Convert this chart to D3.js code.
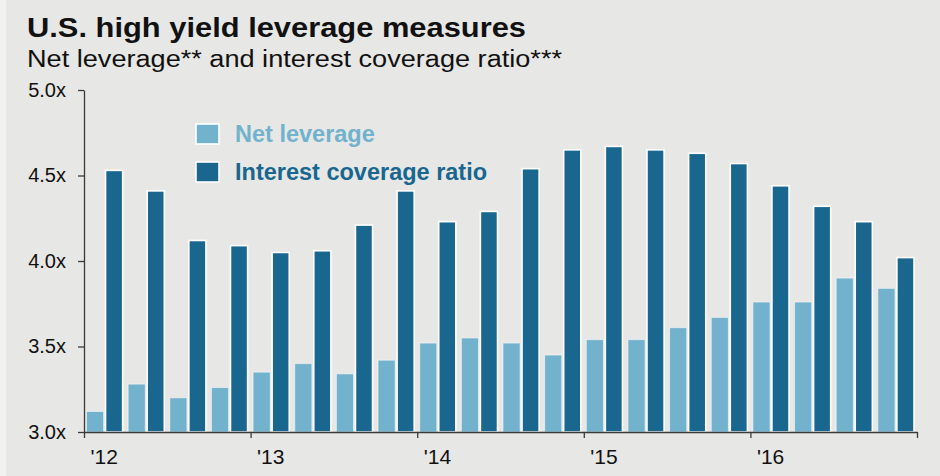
<!DOCTYPE html>
<html>
<head>
<meta charset="utf-8">
<script src="https://cdn.jsdelivr.net/npm/d3@7"></script>
<style>
    body { margin: 0; background: #f2f2f0; }
    svg { display: block; font-family: "Liberation Sans", Arial, sans-serif; }
    .axis path, .axis line { stroke: #3a3a3a; stroke-width: 1.3; }
    .axis text { fill: #111; font-family: "Liberation Sans", Arial, sans-serif; }
</style>
</head>
<body>
<svg class="chart-leverage"></svg>
<script>

var quarters = ["1Q12", "2Q12", "3Q12", "4Q12", "1Q13", "2Q13", "3Q13", "4Q13", "1Q14", "2Q14",
                "3Q14", "4Q14", "1Q15", "2Q15", "3Q15", "4Q15", "1Q16", "2Q16", "3Q16", "4Q16"];
var netLeverage = [3.12, 3.28, 3.20, 3.26, 3.35, 3.40, 3.34, 3.42, 3.52, 3.55,
                   3.52, 3.45, 3.54, 3.54, 3.61, 3.67, 3.76, 3.76, 3.90, 3.84];
var interestCoverage = [4.53, 4.41, 4.12, 4.09, 4.05, 4.06, 4.21, 4.41, 4.23, 4.29,
                        4.54, 4.65, 4.67, 4.65, 4.63, 4.57, 4.44, 4.32, 4.23, 4.02];
var yearLabels = ["'12", "'13", "'14", "'15", "'16"];
var yTicks = [3.0, 3.5, 4.0, 4.5, 5.0];
var seriesNames = ["Net leverage", "Interest coverage ratio"];

var width = 940;
var height = 476;
var plotLeft = 84;
var plotRight = 917;
var plotTop = 90;
var plotBottom = 432;
var lightColor = "#72b2cc";
var darkColor = "#19668e";
var colors = [lightColor, darkColor];

var svg = d3.select(".chart-leverage").attr("width", width).attr("height", height);

svg.append("rect").attr("x", 6).attr("y", 0).attr("width", width - 6).attr("height", height).attr("fill", "#e7e7e5");

// title
svg.append("text").attr("x", 27).attr("y", 37).attr("font-size", 28.5).attr("font-weight", "bold")
    .attr("textLength", 499).attr("lengthAdjust", "spacingAndGlyphs").attr("fill", "#111")
    .text("U.S. high yield leverage measures");

svg.append("text").attr("x", 27).attr("y", 67).attr("font-size", 23.5)
    .attr("textLength", 535).attr("lengthAdjust", "spacingAndGlyphs").attr("fill", "#111")
    .text("Net leverage** and interest coverage ratio***");

var y = d3.scaleLinear().domain([3, 5]).range([plotBottom, plotTop]);
var x0 = d3.scaleBand().domain(quarters).range([plotLeft, plotRight]).padding(0);
var x1 = d3.scaleBand().domain([0, 1]).range([2.5, x0.bandwidth() - 3]).paddingInner(0.1);
var xYear = d3.scaleLinear().domain([0, yearLabels.length]).range([plotLeft, plotRight]);

var rows = quarters.map(function(q, i) {

    return {quarter: q, values: [netLeverage[i], interestCoverage[i]]};

});

var group = svg.selectAll(".quarter").data(rows).enter().append("g").attr("class", "quarter").attr("transform", function(d) {

    return "translate(" + x0(d.quarter) + ",0)";

});

group.selectAll("rect").data(function(d) {

    return d.values.map(function(v, k) { return {k: k, v: v}; });

}).enter().append("rect").attr("x", function(d) {

    return x1(d.k);

}).attr("y", function(d) {

    return y(d.v);

}).attr("width", x1.bandwidth()).attr("height", function(d) {

    return y(3) - y(d.v);

}).attr("fill", function(d) {

    return colors[d.k];

}).attr("stroke", function(d) {

    return d.k == 0 ? "rgba(255,255,255,0.55)" : "#fff";

}).attr("stroke-width", function(d) {

    return d.k == 0 ? 1 : 1.6;

});

// y axis
var yAxis = svg.append("g").attr("class", "axis").attr("transform", "translate(" + plotLeft + ",0)")
    .call(d3.axisLeft(y).tickValues(yTicks).tickSize(6).tickPadding(12).tickSizeOuter(0).tickFormat(function(d) {

        return d3.format(".1f")(d) + "x";

    }));
yAxis.selectAll("text").attr("font-size", 20);

// x axis
var xAxis = svg.append("g").attr("class", "axis").attr("transform", "translate(0," + plotBottom + ")")
    .call(d3.axisBottom(xYear).tickValues(d3.range(yearLabels.length + 1)).tickSize(6).tickSizeOuter(0).tickFormat(function(d) {

        return yearLabels[d] || "";

    }));
xAxis.selectAll("text").attr("font-size", 21).attr("text-anchor", "start").attr("dx", 6).attr("dy", 0).attr("y", 32);

// legend
var legend = svg.selectAll(".legend").data(seriesNames).enter().append("g").attr("class", "legend").attr("transform", function(d, i) {

    return "translate(196," + (124 + i * 38) + ")";

});

legend.append("rect").attr("width", 23).attr("height", 20).attr("fill", function(d, i) {

    return colors[i];

}).attr("stroke", "#fff").attr("stroke-width", 1.6);

legend.append("text").attr("x", 39).attr("y", 17.5).attr("font-size", 23.5).attr("font-weight", "bold").attr("fill", function(d, i) {

    return colors[i];

}).text(function(d) {

    return d;

});

</script>
</body>
</html>
